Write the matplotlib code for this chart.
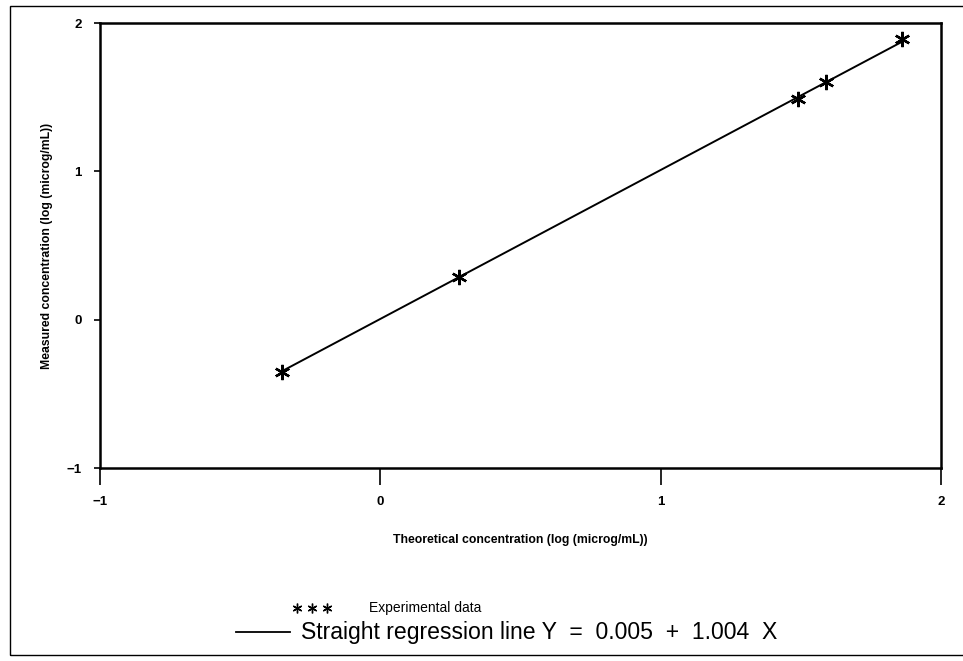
import matplotlib
matplotlib.use("Agg")
import matplotlib.pyplot as plt
from matplotlib.lines import Line2D
from matplotlib.patches import Rectangle
import numpy as np

# Data
theoretical = [-0.35, 0.28, 1.49, 1.59, 1.86]
measured = [-0.35, 0.29, 1.49, 1.60, 1.89]
intercept = 0.005
slope = 1.004
xticks = [-1, 0, 1, 2]
yticks = [-1, 0, 1, 2]

W, H = 963, 661
fig = plt.figure(figsize=(W / 100, H / 100), dpi=100)
fig.patch.set_facecolor("white")

def fx(px):
    return px / W

def fy(py):
    return 1 - py / H

ax = fig.add_axes([fx(100), fy(468), fx(941) - fx(100), fy(23) - fy(468)])
ax.set_xlim(-1, 2)
ax.set_ylim(-1, 2)

xline = np.array([min(theoretical), max(theoretical)])
ax.plot(xline, intercept + slope * xline, color="black", lw=1.4)
ax.plot(theoretical, measured, linestyle="none", marker=(6, 2, 0),
        markersize=11, markeredgewidth=1.7, color="black")

ax.set_xticks(xticks)
ax.set_yticks(yticks)
ax.set_xticklabels([str(t).replace("-", "\u2212") for t in xticks],
                   fontsize=9.5, fontweight="bold", family="Liberation Sans")
ax.set_yticklabels([str(t).replace("-", "\u2212") for t in yticks],
                   fontsize=9.5, fontweight="bold", family="Liberation Sans")
ax.tick_params(axis="x", direction="out", length=12, width=1.2, pad=8)
ax.tick_params(axis="y", direction="out", length=4, width=1.2, pad=9)
for s in ax.spines.values():
    s.set_linewidth(1.8)

ax.set_xlabel("Theoretical concentration (log (microg/mL))", fontsize=8.8,
              fontweight="bold", family="Liberation Sans", labelpad=19)
ax.set_ylabel("Measured concentration (log (microg/mL))", fontsize=8.8,
              fontweight="bold", family="Liberation Sans", labelpad=10)

# outer frame (right edge runs off the page)
fig.add_artist(Rectangle((fx(10), fy(655)), fx(975) - fx(10), fy(6) - fy(655),
                         transform=fig.transFigure, fill=False,
                         edgecolor="black", lw=1.0))

# legend
for sx in (297, 312, 327):
    fig.add_artist(Line2D([fx(sx)], [fy(608)], marker=(6, 2, 0), markersize=7,
                          markeredgewidth=1.0, color="black", linestyle="none",
                          transform=fig.transFigure))
fig.text(fx(369), fy(608), "Experimental data", fontsize=10,
         family="Liberation Sans", va="center", ha="left")
fig.add_artist(Line2D([fx(236), fx(290)], [fy(632), fy(632)], color="black",
                      lw=1.3, transform=fig.transFigure))
fig.text(fx(301), fy(632), "Straight regression line Y  =  0.005  +  1.004  X",
         fontsize=16.6, family="Liberation Sans", va="center", ha="left")

fig.savefig("out.png", dpi=100)
